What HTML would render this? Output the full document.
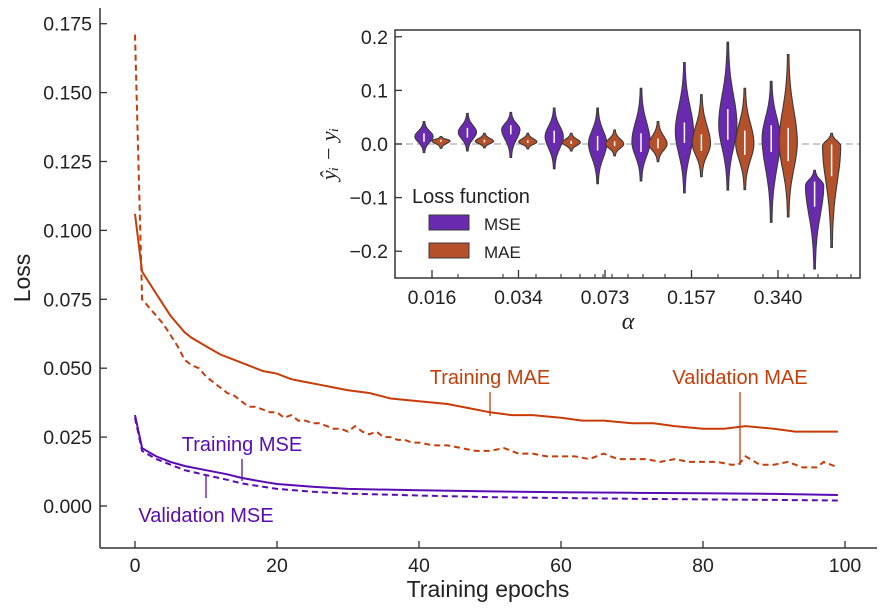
<!DOCTYPE html>
<html><head><meta charset="utf-8">
<style>
body{margin:0;background:#fff;}
svg{display:block;font-family:"Liberation Sans",sans-serif;}
</style></head>
<body>
<svg id="chart" width="885" height="612" viewBox="0 0 885 612" xmlns="http://www.w3.org/2000/svg">
<g id="main"></g>
<g id="inset"></g>
</svg>
<script>
// ---- main chart data ----
const trainMaeEpochs = [0,1,2,3,4,5,6,7,8,10,12,14,16,18,20,22,24,26,28,30,33,36,40,44,48,50,53,56,60,63,66,70,73,76,80,83,86,90,93,96,99];
const trainMaeValues = [0.106,0.085,0.081,0.077,0.073,0.069,0.066,0.063,0.061,0.058,0.055,0.053,0.051,0.049,0.048,0.046,0.045,0.044,0.043,0.042,0.041,0.039,0.038,0.037,0.035,0.034,0.033,0.033,0.032,0.031,0.031,0.030,0.030,0.029,0.028,0.028,0.029,0.028,0.027,0.027,0.027];
const valMaeEpochs = [0,1,2,3,4,5,6,7,8,9,10,11,12,13,14,15,16,17,18,19,20,21,22,23,24,25,26,27,28,29,30,31,32,33,34,35,36,37,38,39,40,42,44,46,48,50,52,54,56,58,60,62,64,66,68,70,72,74,76,78,80,82,84,85,86,88,90,92,94,96,97,99];
const valMaeValues = [0.171,0.075,0.072,0.069,0.066,0.062,0.058,0.053,0.051,0.050,0.047,0.045,0.043,0.041,0.040,0.038,0.036,0.036,0.035,0.034,0.034,0.032,0.033,0.031,0.031,0.030,0.030,0.029,0.028,0.028,0.027,0.029,0.027,0.026,0.027,0.025,0.025,0.024,0.024,0.023,0.023,0.022,0.022,0.021,0.020,0.020,0.021,0.019,0.019,0.018,0.018,0.018,0.017,0.019,0.017,0.017,0.017,0.016,0.017,0.016,0.016,0.016,0.015,0.015,0.018,0.015,0.015,0.016,0.014,0.014,0.016,0.014];
const trainMseEpochs = [0,1,2,3,5,7,10,13,15,18,20,25,30,40,50,60,70,80,90,99];
const trainMseValues = [0.033,0.021,0.0195,0.018,0.016,0.0145,0.013,0.0115,0.0102,0.0088,0.0080,0.0070,0.0062,0.0057,0.0053,0.0050,0.0048,0.0046,0.0044,0.0040];
const valMseEpochs = [0,1,2,3,5,7,10,13,15,18,20,25,30,40,50,60,70,80,90,99];
const valMseValues = [0.032,0.020,0.0185,0.017,0.015,0.013,0.0112,0.0095,0.0082,0.0070,0.0062,0.0052,0.0045,0.0038,0.0032,0.0029,0.0026,0.0024,0.0022,0.0020];
const xTicks = [0,20,40,60,80,100];
const yTicks = [0,0.025,0.05,0.075,0.1,0.125,0.15,0.175];
const yTickLabels = ["0.000","0.025","0.050","0.075","0.100","0.125","0.150","0.175"];

// ---- inset data ----
const alphaLabels = ["0.016","0.034","0.073","0.157","0.340"];
const mseMedian = [0.014,0.022,0.027,0.014,0.001,0.004,0.023,0.036,0.011,-0.077];
const mseMax = [0.042,0.057,0.059,0.067,0.067,0.104,0.152,0.19,0.117,-0.049];
const mseMin = [-0.016,-0.013,-0.025,-0.046,-0.074,-0.069,-0.091,-0.086,-0.146,-0.233];
const mseQ1 = [0.004,0.012,0.018,0.002,-0.012,-0.015,0.002,0.008,-0.015,-0.117];
const mseQ3 = [0.020,0.030,0.035,0.025,0.015,0.020,0.040,0.065,0.035,-0.070];
const maeMedian = [0.006,0.005,0.004,0.003,0,0,0.001,0.001,0.004,-0.003];
const maeMax = [0.014,0.02,0.02,0.02,0.026,0.042,0.092,0.104,0.167,0.02];
const maeMin = [-0.008,-0.007,-0.009,-0.013,-0.022,-0.033,-0.061,-0.085,-0.136,-0.193];
const maeQ1 = [0.004,0.003,0.002,0,-0.004,-0.008,-0.013,-0.020,-0.032,-0.060];
const maeQ3 = [0.008,0.008,0.007,0.006,0.005,0.010,0.018,0.025,0.030,-0.001];

const NS="http://www.w3.org/2000/svg";
function mk(parent,tag,attrs,text){const e=document.createElementNS(NS,tag);for(const k in attrs)e.setAttribute(k,attrs[k]);if(text!==undefined)e.textContent=text;parent.appendChild(e);return e;}

const ORANGE="#c83c08", PURPLE="#5a0cb4";
const main=document.getElementById('main');
const X=e=>135+e*7.1;
const Y=v=>506-v*2756;

function line(xs,ys,color,dash,name){
  const d=xs.map((e,i)=>(i?'L':'M')+X(e).toFixed(1)+','+Y(ys[i]).toFixed(1)).join('');
  const p=mk(main,'path',{d:d,fill:'none',stroke:color,'stroke-width':2});
  if(dash)p.setAttribute('stroke-dasharray','6,4');
  
  
}
line(valMaeEpochs,valMaeValues,ORANGE,true,'validation-mae-line');
line(trainMaeEpochs,trainMaeValues,ORANGE,false,'training-mae-line');
line(valMseEpochs,valMseValues,PURPLE,true,'validation-mse-line');
line(trainMseEpochs,trainMseValues,PURPLE,false,'training-mse-line');

// spines
mk(main,'line',{x1:100,y1:8,x2:100,y2:548,stroke:'#333','stroke-width':1.5});
mk(main,'line',{x1:100,y1:548,x2:877,y2:548,stroke:'#333','stroke-width':1.5});
xTicks.forEach(t=>{
  mk(main,'line',{x1:X(t),y1:548,x2:X(t),y2:541,stroke:'#333','stroke-width':1.3});
  const tx=mk(main,'text',{x:X(t),y:572,'font-size':19.5,'text-anchor':'middle',fill:'#222'},String(t));
  
  
});
yTicks.forEach((t,i)=>{
  mk(main,'line',{x1:100,y1:Y(t),x2:107,y2:Y(t),stroke:'#333','stroke-width':1.3});
  const tx=mk(main,'text',{x:92,y:Y(t)+7,'font-size':19.5,'text-anchor':'end',fill:'#222'},yTickLabels[i]);
  
  
});
mk(main,'text',{x:488,y:597,'font-size':23,'text-anchor':'middle',fill:'#222',},'Training epochs');
mk(main,'text',{x:30,y:278,'font-size':23,'text-anchor':'middle',fill:'#222',transform:'rotate(-90 30 278)',},'Loss');

// annotations
function ann(tx,ty,x1,y1,x2,y2,color,label,name){
  mk(main,'line',{x1:x1,y1:y1,x2:x2,y2:y2,stroke:color,'stroke-width':1.3});
  mk(main,'text',{x:tx,y:ty,'font-size':20,'text-anchor':'middle',fill:color,},label);
}
ann(490,384,490,392,490,416,ORANGE,'Training MAE','training-mae-annotation');
ann(740,384,740,392,740,465,ORANGE,'Validation MAE','validation-mae-annotation');
ann(242,451,242,459,242,481,PURPLE,'Training MSE','training-mse-annotation');
ann(206,522,206,476,206,498,PURPLE,'Validation MSE','validation-mse-annotation');

// ---- inset ----
const ins=document.getElementById('inset');
const IX0=395,IX1=860,IY0=30,IY1=278;
const IY=v=>144-v*536;
const gx=i=>432.5+i*43.4;
mk(ins,'rect',{x:IX0,y:IY0,width:IX1-IX0,height:IY1-IY0,fill:'#fff',stroke:'none'});
mk(ins,'line',{x1:IX0,y1:IY(0),x2:IX1,y2:IY(0),stroke:'#bbb','stroke-width':1.5,'stroke-dasharray':'7,4'});
function violin(cx,med,mx,mn,q1,q3,fill,name){
  const hw=8.5, su=Math.max((mx-med)/2.0,0.004), sd=Math.max((med-mn)/2.0,0.004);
  const pts=[];const N=40;
  for(let k=0;k<=N;k++){const v=mx-(mx-mn)*k/N;const s=v>med?su:sd;const w=hw*Math.exp(-Math.pow((v-med)/s,2)*1.0)+0.6;pts.push([v,w]);}
  let d='M'+pts.map(p=>(cx+p[1]).toFixed(1)+','+IY(p[0]).toFixed(1)).join('L');
  d+='L'+pts.slice().reverse().map(p=>(cx-p[1]).toFixed(1)+','+IY(p[0]).toFixed(1)).join('L')+'Z';
  const p=mk(ins,'path',{d:d,fill:fill,stroke:'#3a3a3a','stroke-width':1.1});
  
  
  mk(ins,'line',{x1:cx,y1:IY(q1),x2:cx,y2:IY(q3),stroke:'#fff','stroke-width':1.5});
}
for(let i=0;i<mseMedian.length;i++){
  violin(gx(i)-8.5,mseMedian[i],mseMax[i],mseMin[i],mseQ1[i],mseQ3[i],'#6a2ab0','violin-mse');
  violin(gx(i)+8.5,maeMedian[i],maeMax[i],maeMin[i],maeQ1[i],maeQ3[i],'#b4502a','violin-mae');
}
mk(ins,'rect',{x:IX0,y:IY0,width:IX1-IX0,height:IY1-IY0,fill:'none',stroke:'#333','stroke-width':1.5});
[0.2,0.1,0,-0.1,-0.2].forEach(t=>{
  mk(ins,'line',{x1:IX0,y1:IY(t),x2:IX0+7,y2:IY(t),stroke:'#333','stroke-width':1.3});
  const lbl=(t<0?'\u2212':'')+Math.abs(t).toFixed(1);
  const tx=mk(ins,'text',{x:IX0-7,y:IY(t)+7,'font-size':19.5,'text-anchor':'end',fill:'#222'},lbl);
  
  
});
alphaLabels.forEach((l,i)=>{
  const x=432+i*86.5;
  mk(ins,'line',{x1:x,y1:IY1,x2:x,y2:IY1-8,stroke:'#333','stroke-width':1.3});
  const tx=mk(ins,'text',{x:x,y:304,'font-size':19.5,'text-anchor':'middle',fill:'#222'},l);
  
  
});
[458,503,536,561,580,595,603,612,628,643,665,718,763,788,804,818,837,851].forEach(x=>{
  mk(ins,'line',{x1:x,y1:IY1,x2:x,y2:IY1-4,stroke:'#333','stroke-width':1.1});
});
mk(ins,'text',{x:628,y:329,'font-size':24,'font-style':'italic','font-family':'"Liberation Serif",serif','text-anchor':'middle',fill:'#222',},'\u03b1');
mk(ins,'text',{x:336,y:154,'font-size':22,'font-style':'italic','font-family':'"Liberation Serif",serif','text-anchor':'middle',fill:'#222',transform:'rotate(-90 336 154)',},'\u0177\u1d62 \u2212 y\u1d62');
// legend
mk(ins,'text',{x:412,y:203,'font-size':20,fill:'#222',},'Loss function');
mk(ins,'rect',{x:429,y:215,width:40,height:15,fill:'#6a2ab0',stroke:'#3a3a3a','stroke-width':1,});
mk(ins,'text',{x:484,y:230,'font-size':17,fill:'#222',},'MSE');
mk(ins,'rect',{x:429,y:243,width:40,height:15,fill:'#b4502a',stroke:'#3a3a3a','stroke-width':1,});
mk(ins,'text',{x:484,y:258,'font-size':17,fill:'#222',},'MAE');
</script>
</body></html>
